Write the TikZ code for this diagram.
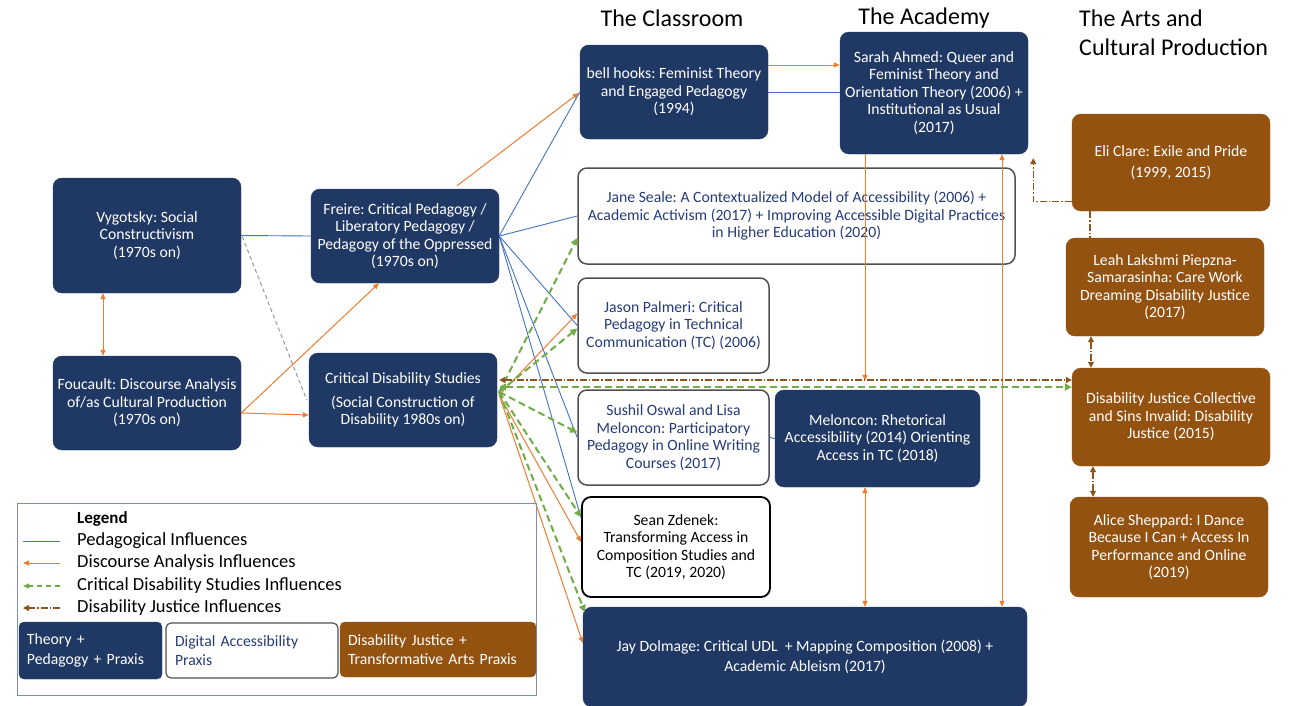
\documentclass[tikz,border=0pt]{standalone}
\usepackage{fontspec}
\setmainfont{Carlito}
\frenchspacing
\usetikzlibrary{arrows.meta,calc}
\definecolor{navy}{RGB}{32,56,100}
\definecolor{djbrown}{RGB}{148,82,17}
\definecolor{pedblue}{RGB}{68,114,196}
\definecolor{discor}{RGB}{237,125,49}
\definecolor{cdsgreen}{RGB}{112,173,71}
\definecolor{djline}{RGB}{140,84,30}
\definecolor{dtext}{RGB}{38,60,120}
\definecolor{sealeborder}{RGB}{80,80,80}
\definecolor{legborder}{RGB}{128,143,166}
\begin{document}
\begin{tikzpicture}[x=1pt,y=-1pt,
 >={Triangle[length=6pt,width=5pt]},
 box/.style={rounded corners=9pt, align=center, inner sep=1pt, font=\fontsize{15.7}{17.5}\selectfont},
 theory/.style={box, fill=navy, draw=navy, text=white},
 digital/.style={box, fill=white, draw=sealeborder, line width=1.5pt, text=dtext},
 djbox/.style={box, fill=djbrown, draw=djbrown, text=white},
 ped/.style={draw=pedblue, line width=0.9pt},
 disc/.style={draw=discor, line width=1pt},
 cdsinf/.style={draw=cdsgreen, line width=2pt, dash pattern=on 7pt off 4pt, >={Triangle[length=7pt,width=7pt]}},
 djinf/.style={draw=djline, line width=1.2pt, dash pattern=on 7pt off 2pt on 1.5pt off 2pt, >={Triangle[length=6pt,width=6pt]}},
 graylink/.style={draw=gray!80, line width=1pt, dash pattern=on 4pt off 3pt},
 head/.style={font=\fontsize{24}{29}\selectfont, inner sep=0pt},
 legtext/.style={font=\fontsize{18.5}{22}\selectfont, anchor=west, inner sep=0pt},
 legbox/.style={rounded corners=5pt, align=left, inner sep=0pt, font=\fontsize{15.7}{19.5}\selectfont}
]
\useasboundingbox (0,0) rectangle (1289,705);
\fill[white] (0,0) rectangle (1289,705);

% headers
\node[head] (hclass) at (672,18) {The Classroom};
\node[head] (hacad) at (924,18) {The Academy};
\node[head, anchor=west, align=left] (harts) at (1079,33) {The Arts and\\Cultural Production};

% theory boxes
\node[theory, minimum width=188pt, minimum height=115pt] (vyg) at (147,235.5) {Vygotsky: Social\\Constructivism\\(1970s on)};
\node[theory, minimum width=188pt, minimum height=94pt] (fouc) at (147,403) {Foucault: Discourse Analysis\\of/as Cultural Production\\(1970s on)};
\node[theory, minimum width=188pt, minimum height=94pt] (freire) at (405,236) {Freire: Critical Pedagogy /\\Liberatory Pedagogy /\\Pedagogy of the Oppressed\\(1970s on)};
\node[theory, minimum width=188pt, minimum height=94pt] (cds) at (403,400) {Critical Disability Studies\\[6pt](Social Construction of\\Disability 1980s on)};
\node[theory, minimum width=188pt, minimum height=94pt] (hooks) at (674,92) {bell hooks: Feminist Theory\\and Engaged Pedagogy\\(1994)};
\node[theory, minimum width=188pt, minimum height=122pt] (ahmed) at (934,93) {Sarah Ahmed: Queer and\\Feminist Theory and\\Orientation Theory (2006) +\\Institutional as Usual\\(2017)};
\node[theory, minimum width=205pt, minimum height=97pt] (meloncon) at (877.5,438.5) {Meloncon: Rhetorical\\Accessibility (2014) Orienting\\Access in TC (2018)};
\node[theory, minimum width=444pt, minimum height=100pt] (dolmage) at (805,657) {Jay Dolmage: Critical UDL\ \ + Mapping Composition (2008) +\\[2pt]Academic Ableism (2017)};

% digital accessibility boxes
\node[digital, minimum width=437pt, minimum height=96pt] (seale) at (796.5,216) {Jane Seale: A Contextualized Model of Accessibility (2006) +\\Academic Activism (2017) + Improving Accessible Digital Practices\\in Higher Education (2020)};
\node[digital, minimum width=191pt, minimum height=95pt] (palmeri) at (673.5,325.5) {Jason Palmeri: Critical\\Pedagogy in Technical\\Communication (TC) (2006)};
\node[digital, minimum width=191pt, minimum height=95pt] (oswal) at (673.5,437.5) {Sushil Oswal and Lisa\\Meloncon: Participatory\\Pedagogy in Online Writing\\Courses (2017)};
\node[digital, draw=black, line width=1.8pt, text=black, minimum width=188pt, minimum height=100pt] (zdenek) at (676,547) {Sean Zdenek:\\Transforming Access in\\Composition Studies and\\TC (2019, 2020)};

% disability justice boxes
\node[djbox, minimum width=198pt, minimum height=97pt] (eli) at (1171,162.5) {Eli Clare: Exile and Pride\\[3pt](1999, 2015)};
\node[djbox, minimum width=198pt, minimum height=98pt] (leah) at (1165,287) {Leah Lakshmi Piepzna-\\Samarasinha: Care Work\\Dreaming Disability Justice\\(2017)};
\node[djbox, minimum width=198pt, minimum height=98pt] (djc) at (1171,417) {Disability Justice Collective\\and Sins Invalid: Disability\\Justice (2015)};
\node[djbox, minimum width=198pt, minimum height=100pt] (alice) at (1169,547) {Alice Sheppard: I Dance\\Because I Can + Access In\\Performance and Online\\(2019)};

% pedagogical influences
\draw[ped] (vyg.east) -- (freire.west);
\draw[ped] (hooks.east) -- (ahmed.west |- hooks.east);
\draw[ped] (freire.east) -- (hooks.west);
\draw[ped] (freire.east) -- (seale.west);
\draw[ped] (freire.east) -- (palmeri.west);
\draw[ped] (freire.east) -- (oswal.west);
\draw[ped] (freire.east) -- ($(zdenek.west)+(0,-29)$);
\draw[ped] (oswal.east) -- (meloncon.west);

% gray dashed
\draw[graylink] ($(vyg.east)+(1,1)$) -- ($(cds.west)+(-2,0)$);

% discourse analysis influences
\draw[disc,<->] ($(vyg.south)+(-44,0)$) -- ($(fouc.north)+(-44,0)$);
\coordinate (foucout) at ($(fouc.east)+(0,10)$);
\draw[disc,->] (foucout) -- ($(freire.south)+(-26,0)$);
\draw[disc,->] (foucout) -- ($(cds.west)+(0,15)$);
\draw[disc,->] ($(freire.north)+(52,-3)$) -- ($(hooks.west)+(-1,1)$);
\draw[disc,->] ($(hooks.east)+(0,-27)$) -- ($(ahmed.west)+(0,-28)$);
\draw[disc,->] ($(ahmed.south)+(-69,0)$) -- ($(meloncon.north)+(-12.5,-9)$);
\draw[disc,<->] ($(meloncon.south)+(-12.5,0)$) -- ($(dolmage.north)+(60,0)$);
\draw[disc,<->] ($(dolmage.north)+(197,0)$) -- ($(ahmed.south)+(68,0)$);
\coordinate (cdsout) at ($(cds.east)+(2,-5)$);
\draw[disc,->] (cdsout) -- ($(palmeri.west)+(0,-12)$);
\draw[disc,->] (cdsout) -- ($(zdenek.west)+(0,-5)$);
\draw[disc,->] (cdsout) -- ($(dolmage.west)+(0,-14)$);

% critical disability studies influences
\coordinate (cdsg) at ($(cds.east)+(2,-8)$);
\draw[cdsinf,->] (cdsg) -- ($(seale.west)+(0,22)$);
\draw[cdsinf,->] (cdsg) -- ($(palmeri.west)+(0,3)$);
\draw[cdsinf,->] (cdsg) -- ($(oswal.west)+(0,-5)$);
\draw[cdsinf,->] (cdsg) -- ($(zdenek.west)+(0,-30)$);
\draw[cdsinf,->] (cdsg) -- ($(dolmage.west)+(2,-45)$);
\draw[cdsinf,<->] ($(cds.east)+(2,-13)$) -- ($(djc.west)+(0,-30)$);

% disability justice influences
\draw[djinf,<->] ($(cds.east)+(2,-20)$) -- ($(djc.west)+(0,-37)$);
\draw[djinf,->] ($(eli.west)+(0,39)$) -| ($(ahmed.south east)+(5,4)$);
\draw[djinf] ($(eli.south)+(-81,0)$) -- ($(leah.north)+(-75,0)$);
\draw[djinf,<->] ($(leah.south)+(-74,0)$) -- ($(djc.north)+(-80,0)$);
\draw[djinf,<->] ($(djc.south)+(-78,0)$) -- ($(alice.north)+(-76,0)$);

% legend
\node[draw=legborder, line width=1pt, minimum width=519pt, minimum height=192pt, inner sep=0pt] (legend) at (276.5,599) {};
\node[legtext, font=\bfseries\fontsize{17}{22}\selectfont] (legtitle) at (77,519) {Legend};
\node[legtext] (lt1) at (77,541) {Pedagogical Influences};
\node[legtext] (lt2) at (77,563) {Discourse Analysis Influences};
\node[legtext] (lt3) at (77,586) {Critical Disability Studies Influences};
\node[legtext] (lt4) at (77,608) {Disability Justice Influences};
\coordinate (l1a) at (23,541); \coordinate (l1b) at (60,541);
\coordinate (l2a) at (23,563); \coordinate (l2b) at (60,563);
\coordinate (l3a) at (23,586); \coordinate (l3b) at (60,586);
\coordinate (l4a) at (23,608); \coordinate (l4b) at (60,608);
\draw[ped] (l1b) -- (l1a);
\draw[disc,->] (l2b) -- (l2a);
\draw[cdsinf,line width=1.2pt,dash pattern=on 5pt off 4pt,->,>={Triangle[length=6pt,width=5pt]}] (l3b) -- (l3a);
\draw[djinf,->] (l4b) -- (l4a);
\node[legbox, fill=navy, draw=navy, text=white, minimum width=143pt, minimum height=57pt, text width=127pt] (lbt) at (90.5,650.5) {Theory +\\Pedagogy + Praxis};
\node[legbox, fill=white, draw=sealeborder, line width=1.2pt, text=dtext, minimum width=172pt, minimum height=55pt, text width=154pt] (lbd) at (252,650.5) {Digital Accessibility\\Praxis};
\node[legbox, fill=djbrown, draw=djbrown, text=white, minimum width=196pt, minimum height=55pt, text width=180pt] (lbj) at (438,649.5) {Disability Justice +\\Transformative Arts Praxis};
\end{tikzpicture}
\end{document}
